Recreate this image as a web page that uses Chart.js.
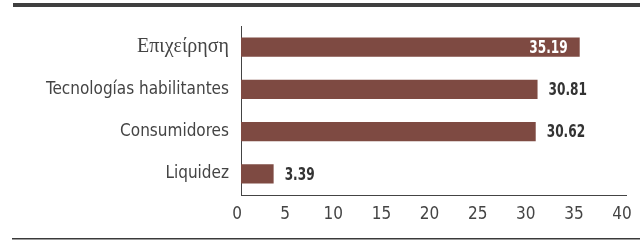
<!DOCTYPE html>
<html>
<head>
<meta charset="utf-8">
<script src="https://cdn.jsdelivr.net/npm/chart.js@4.4.0/dist/chart.umd.min.js"></script>
<style>
html,body{margin:0;padding:0;background:#fff;}
#wrap{position:relative;width:640px;height:240px;}
</style>
</head>
<body>
<div id="wrap"><canvas id="c" width="640" height="240"></canvas></div>
<script>
const categories = ["Επιχείρηση", "Tecnologías habilitantes", "Consumidores", "Liquidez"];
const values = [35.19, 30.81, 30.62, 3.39];
const xTicks = [0, 5, 10, 15, 20, 25, 30, 35, 40];

const NARROW = "'Liberation Sans Narrow', 'DejaVu Sans Condensed', 'Roboto Condensed', sans-serif";
const SERIF = "'Liberation Serif', 'DejaVu Serif', serif";

const decor = {
  id: 'decor',
  beforeDraw(chart) {
    const ctx = chart.ctx;
    ctx.save();
    ctx.fillStyle = '#3f3f3f';
    ctx.fillRect(13, 3, chart.width - 13, 4);
    ctx.fillStyle = '#3a3a3a';
    ctx.fillRect(12, 238, chart.width - 12, 1.5);
    ctx.restore();
  }
};

const valueLabels = {
  id: 'valueLabels',
  afterDatasetsDraw(chart) {
    const ctx = chart.ctx;
    const meta = chart.getDatasetMeta(0);
    const sx = 0.75;
    ctx.save();
    ctx.font = "bold 18px " + NARROW;
    ctx.textBaseline = 'middle';
    meta.data.forEach((bar, i) => {
      const v = values[i];
      const txt = v.toFixed(2);
      const w = ctx.measureText(txt).width * sx;
      ctx.save();
      if (bar.x + 11 + w > chart.chartArea.right) {
        ctx.fillStyle = '#ffffff';
        ctx.translate(bar.x - 12 - w, bar.y + 1);
      } else {
        ctx.fillStyle = '#333333';
        ctx.translate(bar.x + 11, bar.y + 1);
      }
      ctx.scale(sx, 1);
      ctx.textAlign = 'left';
      ctx.fillText(txt, 0, 0);
      ctx.restore();
    });
    ctx.restore();
  }
};

new Chart(document.getElementById('c'), {
  type: 'bar',
  data: {
    labels: categories,
    datasets: [{
      data: values,
      backgroundColor: '#7e4a42',
      borderWidth: 0,
      barPercentage: 0.45,
      categoryPercentage: 1
    }]
  },
  options: {
    indexAxis: 'y',
    responsive: false,
    animation: false,
    events: [],
    layout: { padding: { top: 26, right: 14, left: 0, bottom: 0 } },
    plugins: { legend: { display: false }, tooltip: { enabled: false } },
    scales: {
      x: {
        min: 0, max: 40,
        afterBuildTicks(scale) { scale.ticks = xTicks.map(v => ({ value: v })); },
        afterFit(scale) { scale.height = 45; scale.paddingRight = 0; scale.paddingLeft = 0; },
        grid: { display: false, drawTicks: false },
        border: { display: true, color: '#444', width: 1 },
        ticks: {
          padding: 9,
          labelOffset: -4,
          color: '#444',
          font: { family: NARROW, size: 17 }
        }
      },
      y: {
        afterFit(scale) { scale.width = 241; },
        grid: { display: false, drawTicks: false },
        border: { display: true, color: '#444', width: 1 },
        ticks: {
          padding: 12,
          color: '#444',
          font: (ctx) => ctx.index === 0 ? { family: SERIF, size: 20 } : { family: NARROW, size: 17 }
        }
      }
    }
  },
  plugins: [decor, valueLabels]
});
</script>
</body>
</html>
